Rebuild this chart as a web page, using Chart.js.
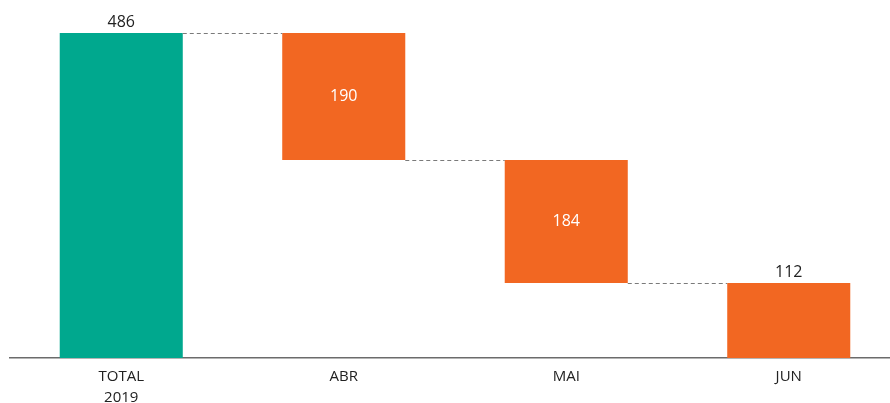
<!DOCTYPE html>
<html lang="pt">
<head>
    <meta charset="UTF-8">
    <title>Waterfall 2019</title>
    <script src="https://cdn.jsdelivr.net/npm/chart.js"></script>
    <style>
      html, body { margin: 0; padding: 0; overflow: hidden; background: #fff; }
    </style>
</head>
<body>
    <canvas id="waterfall" width="900" height="416"></canvas>

    <script>
      // chart data
      const categories = [['TOTAL', '2019'], 'ABR', 'MAI', 'JUN'];
      const amounts = [486, 190, 184, 112];
      const kinds = ['total', 'down', 'down', 'total'];

      const green = '#00A88E';
      const orange = '#F26722';

      // build floating ranges from the running total
      let running = 0;
      const ranges = amounts.map((v, i) => {
        if (kinds[i] === 'total') { running = v; return [0, v]; }
        const r = [running - v, running];
        running -= v;
        return r;
      });
      const colors = kinds.map((k, i) => i === 0 ? green : orange);

      // dashed connectors + value labels
      const waterfallExtras = {
        id: 'waterfallExtras',
        afterDatasetsDraw(chart) {
          const ctx = chart.ctx;
          const meta = chart.getDatasetMeta(0);
          const y = chart.scales.y;
          ctx.save();
          ctx.strokeStyle = '#7a7a7a';
          ctx.lineWidth = 1;
          ctx.setLineDash([4, 3]);
          for (let i = 0; i < meta.data.length - 1; i++) {
            const a = meta.data[i], b = meta.data[i + 1];
            const level = kinds[i] === 'total' ? ranges[i][1] : ranges[i][0];
            const py = Math.round(y.getPixelForValue(level)) + 0.5;
            ctx.beginPath();
            ctx.moveTo(a.x + a.width / 2, py);
            ctx.lineTo(b.x - b.width / 2, py);
            ctx.stroke();
          }
          ctx.setLineDash([]);
          ctx.font = '16px "Open Sans", sans-serif';
          ctx.textAlign = 'center';
          meta.data.forEach((bar, i) => {
            if (kinds[i] === 'total') {
              ctx.fillStyle = '#222';
              ctx.textBaseline = 'bottom';
              ctx.fillText(amounts[i], bar.x, y.getPixelForValue(ranges[i][1]) - 3);
            } else {
              ctx.fillStyle = '#fff';
              ctx.textBaseline = 'middle';
              const mid = (ranges[i][0] + ranges[i][1]) / 2;
              ctx.fillText(amounts[i], bar.x, y.getPixelForValue(mid));
            }
          });
          ctx.restore();
        }
      };

      new Chart(document.getElementById('waterfall'), {
        type: 'bar',
        data: {
          labels: categories,
          datasets: [{
            data: ranges,
            backgroundColor: colors,
            borderWidth: 0,
            barPercentage: 0.553,
            categoryPercentage: 1.0
          }]
        },
        options: {
          responsive: false,
          animation: false,
          layout: { padding: { left: 10, top: 33, right: 0, bottom: 0 } },
          plugins: {
            legend: { display: false },
            tooltip: { enabled: false }
          },
          scales: {
            x: {
              grid: { display: false, drawTicks: false },
              border: { display: true, color: '#6b6b6b', width: 1.5 },
              ticks: {
                color: '#222',
                padding: 8,
                font: { family: '"Open Sans", sans-serif', size: 15, lineHeight: 1.4 },
                maxRotation: 0
              }
            },
            y: {
              display: false,
              min: 0,
              max: 486
            }
          }
        },
        plugins: [waterfallExtras]
      });
    </script>
</body>
</html>
